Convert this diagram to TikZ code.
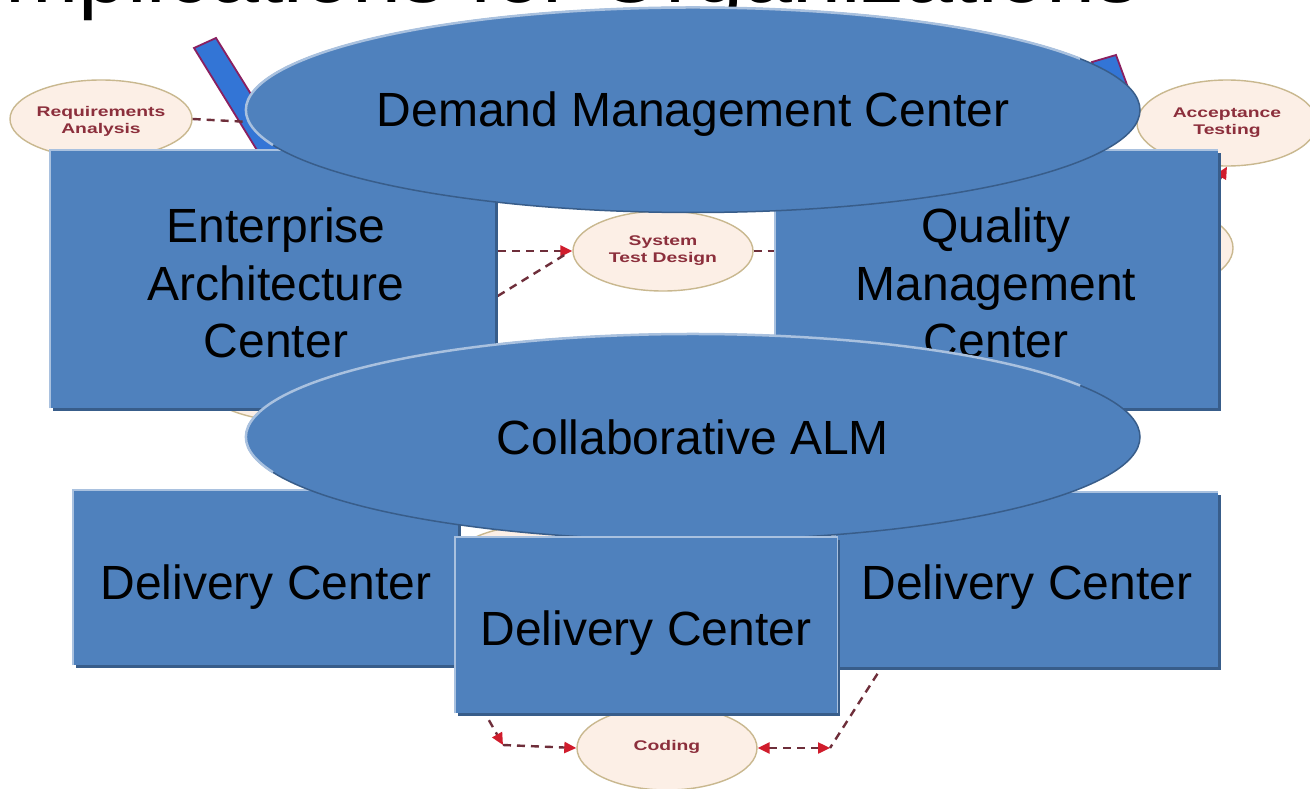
\documentclass[tikz,border=0pt]{standalone}
\usepackage{fontspec}
\setmainfont{Liberation Sans}
\newfontfamily\widebold[FakeStretch=1.38]{Liberation Sans}
\usetikzlibrary{arrows.meta,shapes.geometric}
\definecolor{boxblue}{HTML}{4F81BD}
\definecolor{boxdark}{HTML}{385D8A}
\definecolor{boxlight}{HTML}{A9C1DF}
\definecolor{bgfill}{HTML}{FCEFE6}
\definecolor{bgline}{HTML}{C9B88F}
\definecolor{lblcol}{HTML}{8C2F3C}
\definecolor{dashcol}{HTML}{6E2E3A}
\definecolor{arrhead}{HTML}{D01C2C}
\definecolor{vbar}{HTML}{3375D6}
\definecolor{vbarline}{HTML}{8A2060}
\tikzset{
  bgell/.style={ellipse, draw=bgline, line width=1.4pt, fill=bgfill, inner sep=0pt},
  bglbl/.style={font=\widebold\bfseries\fontsize{14}{17}\selectfont, text=lblcol, align=center, inner sep=0pt},
  dashline/.style={draw=dashcol, dash pattern=on 8pt off 6pt, line width=2.4pt},
  redtip/.tip={Triangle[length=12pt,width=11pt,color=arrhead]},
  dasharrow/.style={dashline, -redtip},
  bluebox/.style={rectangle, fill=boxblue, inner sep=0pt},
  blueell/.style={ellipse, fill=boxblue, draw=boxdark, line width=1.5pt, inner sep=0pt},
  bigtext/.style={font=\fontsize{48}{57.5}\selectfont, align=center, text=black, inner sep=0pt},
  titletext/.style={font=\fontsize{88}{100}\selectfont, text=black, inner sep=0pt},
  hilite/.style={draw=boxlight, line width=1.6pt},
}
\begin{document}
\begin{tikzpicture}[x=1pt,y=-1pt]
\useasboundingbox (0,0) rectangle (1310,789);
\fill[white] (0,0) rectangle (1310,789);

% title (cut off at the top)
\node[titletext, anchor=base east] (title) at (1140,3) {Implications for Organizations};

% background V-model picture
\filldraw[fill=vbar, draw=vbarline, line width=1.8pt] (194,48) -- (216,38) -- (292,160) -- (268,168) -- cycle;
\filldraw[fill=vbar, draw=vbarline, line width=1.8pt] (1092,62) -- (1116,55) -- (1140,120) -- (1116,128) -- cycle;

\node[bgell, minimum width=182, minimum height=78] (req) at (101,119) {};
\node[bglbl] (reqt) at (101,121) {Requirements\\Analysis};
\coordinate (reqend) at (250,122);
\draw[dashline] (req.east) -- (reqend);

\node[bgell, minimum width=180, minimum height=86] (acc) at (1227,123) {};
\node[bglbl] (acct) at (1227,123) {Acceptance\\Testing};
\coordinate (accin) at (1205,205);
\draw[dasharrow] (accin) -- (acc.south);

\node[bgell, minimum width=180, minimum height=88] (rp) at (1143,248) {};
\node[bgell, minimum width=200, minimum height=84] (lp) at (300,380) {};
\node[bgell, minimum width=180, minimum height=80] (mp) at (540,565) {};

\node[bgell, minimum width=180, minimum height=80] (std) at (663,251) {};
\node[bglbl] (stdt) at (663,251) {System\\Test Design};
\coordinate (stdin1) at (470,251);
\coordinate (stdin2) at (462,318);
\coordinate (stdin3) at (566,254);
\coordinate (stdout) at (790,251);
\draw[dasharrow] (stdin1) -- (std.west);
\draw[dashline] (stdin2) -- (stdin3);
\draw[dashline] (std.east) -- (stdout);

\node[bgell, minimum width=180, minimum height=84] (cod) at (667,748) {};
\node[bglbl] (codt) at (667,747) {Coding};
\coordinate (cl1) at (482,708);
\coordinate (cl2) at (503,745);
\draw[dasharrow] (cl1) -- (cl2);
\draw[dasharrow] (cl2) -- (cod.west);
\coordinate (cr1) at (830,748);
\coordinate (cr2) at (885,662);
\draw[dashline] (cr2) -- (cr1);
\draw[dashline, redtip-redtip] (cod.east) -- (cr1);

% upper boxes
\fill[boxdark] (53,153) rectangle (498,411);
\node[bluebox, minimum width=445, minimum height=258, anchor=north west] (ea) at (50,150) {};
\draw[hilite] (ea.south west) -- (ea.north west) -- (ea.north east);
\node[bigtext] (eat) at (276,283) {Enterprise\\Architecture\\Center};

\fill[boxdark] (778,153) rectangle (1221,411);
\node[bluebox, minimum width=443, minimum height=258, anchor=north west] (qm) at (775,150) {};
\draw[hilite] (qm.south west) -- (qm.north west) -- (qm.north east);
\node[bigtext] (qmt) at (996,283) {Quality\\Management\\Center};

% demand ellipse
\node[blueell, minimum width=894, minimum height=205] (dm) at (693,110) {};
\draw[boxlight, line width=2.5pt] (dm.center) ++(160:447 and 102.5) arc[start angle=160, end angle=330, x radius=447, y radius=102.5];
\node[bigtext, anchor=base] (dmt) at (693,127) {Demand Management Center};

% lower boxes
\fill[boxdark] (76,493) rectangle (461,668);
\node[bluebox, minimum width=385, minimum height=175, anchor=north west] (dl) at (73,490) {};
\draw[hilite] (dl.south west) -- (dl.north west) -- (dl.north east);
\node[bigtext, anchor=base] (dlt) at (266,599) {Delivery Center};

\fill[boxdark] (838,495) rectangle (1221,670);
\node[bluebox, minimum width=383, minimum height=175, anchor=north west] (dr) at (835,492) {};
\draw[hilite] (dr.south west) -- (dr.north west) -- (dr.north east);
\node[bigtext, anchor=base] (drt) at (1027,599) {Delivery Center};

% collaborative ellipse
\node[blueell, minimum width=894, minimum height=206] (ca) at (693,437) {};
\draw[boxlight, line width=2.5pt] (ca.center) ++(160:447 and 103) arc[start angle=160, end angle=330, x radius=447, y radius=103];
\node[bigtext, anchor=base] (cat) at (693,454) {Collaborative ALM};

% middle delivery box
\fill[boxdark] (458,540) rectangle (840,716);
\node[bluebox, minimum width=382, minimum height=176, anchor=north west] (dc) at (455,537) {};
\draw[hilite] (dc.south west) -- (dc.north west) -- (dc.north east) -- (dc.south east);
\node[bigtext, anchor=base] (dct) at (646,645) {Delivery Center};
\end{tikzpicture}
\end{document}
